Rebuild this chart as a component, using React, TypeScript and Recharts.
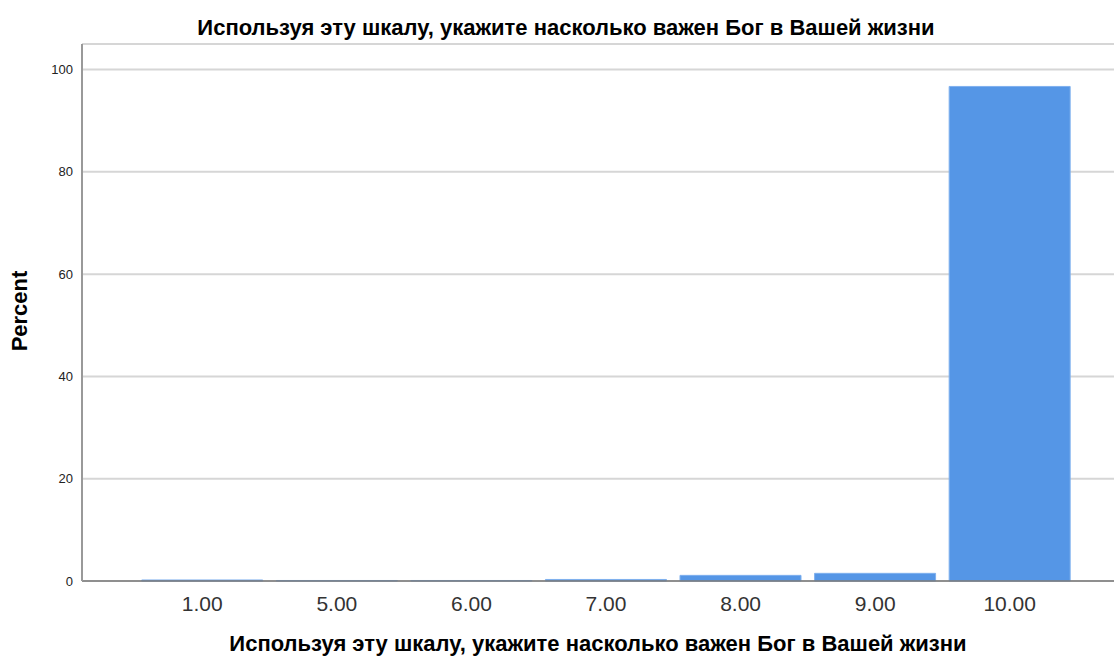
import { BarChart, Bar, XAxis, YAxis, CartesianGrid } from "recharts";

const categories = ["1.00", "5.00", "6.00", "7.00", "8.00", "9.00", "10.00"];
const percents = [0.2, 0.1, 0.1, 0.3, 1.1, 1.5, 96.7];
const yTicks = [0, 20, 40, 60, 80, 100];

const TITLE = "Используя эту шкалу, укажите насколько важен Бог в Вашей жизни";
const FONT = "'Liberation Sans', Arial, sans-serif";

export default function App() {
  const data = categories.map((c, i) => ({ category: c, percent: percents[i] }));

  return (
    <div style={{ position: "absolute", left: 0, top: 0, width: 1114, height: 656, background: "#fff", fontFamily: FONT }}>
      <div style={{ position: "absolute", top: 15, left: 0, width: 1132, textAlign: "center", fontSize: 22, fontWeight: "bold", color: "#000", whiteSpace: "nowrap" }}>
        {TITLE}
      </div>
      <BarChart width={1114} height={656} data={data} barCategoryGap="5%"
        margin={{ top: 44, right: 0, left: 0, bottom: 0 }}>
        <CartesianGrid vertical={false} stroke="#d6d6d6" strokeWidth={2} />
        <XAxis dataKey="category" height={75} padding={{ left: 53, right: 37 }}
          stroke="#777" strokeWidth={1.5} tickLine={false} tickSize={0} tickMargin={15}
          tick={{ fontSize: 21, fill: "#333", fontFamily: FONT }} />
        <YAxis width={82} domain={[0, 105]} ticks={yTicks} stroke="#999" strokeWidth={2}
          tickLine={false} tickSize={0} tickMargin={9}
          tick={{ fontSize: 13, fill: "#222", fontFamily: FONT }} />
        <Bar dataKey="percent" fill="#5596E6" stroke="#7fb0ee" strokeWidth={1} isAnimationActive={false} />
      </BarChart>
      <div style={{ position: "absolute", top: 311, left: 20, transform: "translate(-50%, -50%) rotate(-90deg)", fontSize: 22, fontWeight: "bold", color: "#000", whiteSpace: "nowrap" }}>
        Percent
      </div>
      <div style={{ position: "absolute", top: 631, left: 82, width: 1032, textAlign: "center", fontSize: 22, fontWeight: "bold", color: "#000", whiteSpace: "nowrap" }}>
        {TITLE}
      </div>
    </div>
  );
}
